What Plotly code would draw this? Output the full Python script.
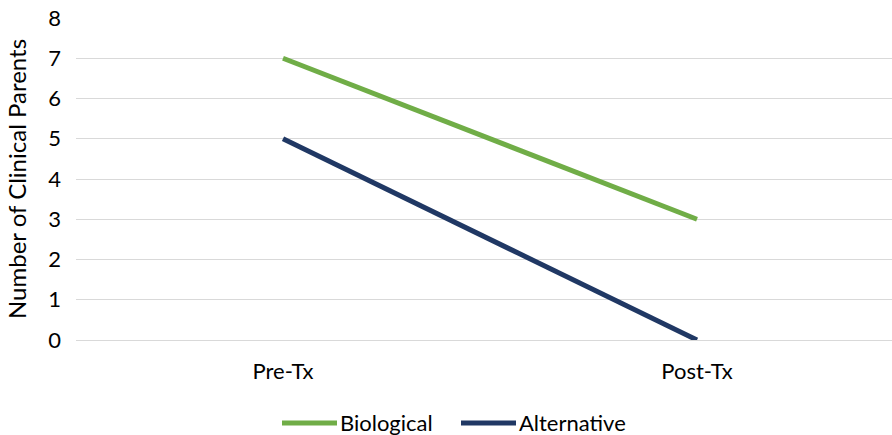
import plotly.graph_objects as go

categories = ["Pre-Tx", "Post-Tx"]
biological = [7, 3]
alternative = [5, 0]
series_names = ["Biological", "Alternative"]
colors = ["#70AD47", "#203864"]
y_ticks = [0, 1, 2, 3, 4, 5, 6, 7, 8]

FONT = "Lato, Calibri, 'Open Sans', sans-serif"

W, H = 892, 435
ML, MR, MT, MB = 76, 0, 18, 95
PW, PH = W - ML - MR, H - MT - MB

fig = go.Figure()
for name, vals, col in zip(series_names, [biological, alternative], colors):
    fig.add_trace(go.Scatter(
        x=categories, y=vals, name=name, mode="lines",
        line=dict(color=col, width=5),
    ))

# custom legend (longer line symbols like the reference)
def px_x(x):
    return (x - ML) / PW

def px_y(y):
    return (H - MB - y) / PH

legend_items = [(series_names[0], colors[0], 282), (series_names[1], colors[1], 461)]
ly = 423
for name, col, x0 in legend_items:
    fig.add_shape(type="line", xref="paper", yref="paper",
                  x0=px_x(x0), x1=px_x(x0 + 55), y0=px_y(ly), y1=px_y(ly),
                  line=dict(color=col, width=5))
    fig.add_annotation(xref="paper", yref="paper", x=px_x(x0 + 56), y=px_y(ly),
                       text=name, showarrow=False, xanchor="left", yanchor="middle",
                       font=dict(size=22, family=FONT, color="#000000"))

fig.update_layout(
    width=W, height=H,
    margin=dict(l=ML, r=MR, t=MT, b=MB),
    paper_bgcolor="white", plot_bgcolor="white",
    font=dict(family=FONT, size=22, color="#000000"),
    showlegend=False,
)
fig.update_xaxes(
    type="category", range=[-0.5, 1.471],
    showgrid=False, showline=False, zeroline=False,
    ticks="", tickfont=dict(size=22), ticklabelstandoff=16,
)
fig.update_yaxes(
    range=[0, 8], tickvals=y_ticks,
    showgrid=True, gridcolor="#D9D9D9", gridwidth=1,
    zeroline=True, zerolinecolor="#D9D9D9", zerolinewidth=1,
    showline=False, ticks="", tickfont=dict(size=22), ticklabelstandoff=14,
    title=dict(text="Number of Clinical Parents", font=dict(size=24), standoff=14),
)

fig.write_html("out.html")
